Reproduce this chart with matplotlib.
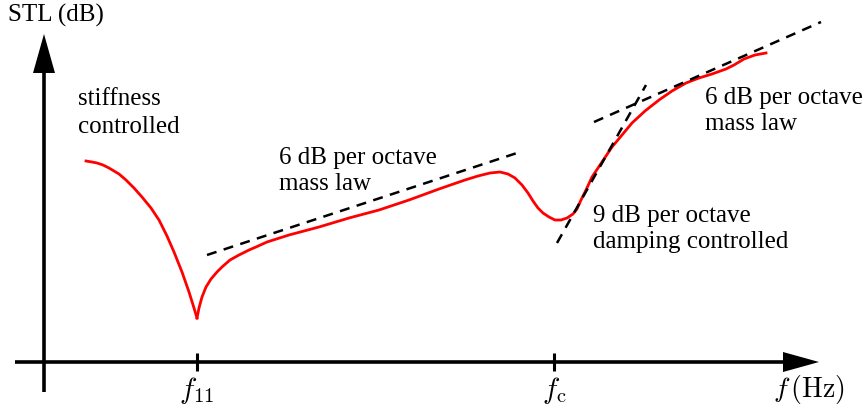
import matplotlib
matplotlib.use("Agg")
import matplotlib.pyplot as plt

plt.rcParams["font.family"] = ["Liberation Serif", "DejaVu Serif"]
plt.rcParams["mathtext.fontset"] = "cm"

# schematic STL curve (x: frequency position, y: STL level, arbitrary units)
low_freq = [42, 48, 53, 59, 65, 70, 75, 82, 90, 98, 107, 115, 123, 130, 138, 145, 150, 153]
low_stl = [201, 200, 199, 197, 194, 191, 188, 182, 174, 165, 154, 142, 126, 110, 90, 70, 54, 44]

high_freq = [153, 155, 158, 162, 167, 173, 178, 186, 195, 205, 212, 223, 245, 275,
             305, 335, 365, 395, 421, 434, 446, 456, 464, 471, 478, 484, 489, 494,
             499, 505, 511, 517, 523, 529, 533, 537, 542, 548, 558, 568, 578, 588,
             601, 615, 628, 642, 655, 668, 682, 690, 700, 711, 722]
high_stl = [44, 54, 65, 75, 83, 90, 95, 102, 107, 112, 115, 120, 127, 135,
            144, 152, 162, 173, 182, 186, 189, 190, 188, 184, 177, 169, 161, 154,
            149, 145, 142, 142, 144, 148, 153, 162, 172, 185, 200, 215, 227, 239,
            251, 262, 271, 279, 284, 288, 293, 297, 303, 307, 309]

# asymptote lines
mass_law1_freq = [163, 473]
mass_law1_stl = [107, 209]
damping_freq = [513, 602]
damping_stl = [119, 277]
mass_law2_freq = [550, 777]
mass_law2_stl = [240, 340]

tick_freqs = [153, 510]
tick_labels = [r"$f_{11}$", r"$f_{\rm c}$"]

fig = plt.figure(figsize=(8.68, 4.08), dpi=100)
ax = fig.add_axes([0, 0, 1, 1])
ax.set_xlim(-44, 824)
ax.set_ylim(-46, 362)
ax.axis("off")

# axes with arrows
ax.plot([0, 0], [-30, 300], color="black", lw=2.6, solid_capstyle="butt")
ax.arrow(0, 280, 0, 48, width=0, head_width=22, head_length=39,
         length_includes_head=True, fc="black", ec="none")
ax.plot([-29, 750], [0, 0], color="black", lw=2.6, solid_capstyle="butt")
ax.arrow(730, 0, 45, 0, width=0, head_width=20, head_length=36,
         length_includes_head=True, fc="black", ec="none")
for fx, lab in zip(tick_freqs, tick_labels):
    ax.plot([fx, fx], [-9, 9], color="black", lw=2.2, solid_capstyle="butt")
    ax.text(fx, -29, lab, ha="center", va="center", fontsize=21)
ax.text(729, -27, r"$f\,(\mathrm{Hz})$", ha="left", va="center", fontsize=20)
ax.text(-36, 347, "STL (dB)", ha="left", va="center", fontsize=18)

# curve
ax.plot(low_freq, low_stl, color="red", lw=2.0, solid_joinstyle="round")
ax.plot(high_freq, high_stl, color="red", lw=2.0, solid_joinstyle="round")

# asymptotes
dash = dict(color="black", lw=1.8, linestyle=(0, (4, 3)))
ax.plot(mass_law1_freq, mass_law1_stl, **dash)
ax.plot(damping_freq, damping_stl, **dash)
ax.plot(mass_law2_freq, mass_law2_stl, **dash)

# annotations
ax.text(34, 249, "stiffness\ncontrolled", ha="left", va="center",
        fontsize=18, linespacing=1.3)
ax.text(235, 191, "6 dB per octave\nmass law", ha="left", va="center",
        fontsize=18, linespacing=1.25)
ax.text(549, 133, "9 dB per octave\ndamping controlled", ha="left", va="center",
        fontsize=18, linespacing=1.25)
ax.text(661, 251, "6 dB per octave\nmass law", ha="left", va="center",
        fontsize=18, linespacing=1.25)

fig.savefig("out.png", dpi=100, facecolor="white")
